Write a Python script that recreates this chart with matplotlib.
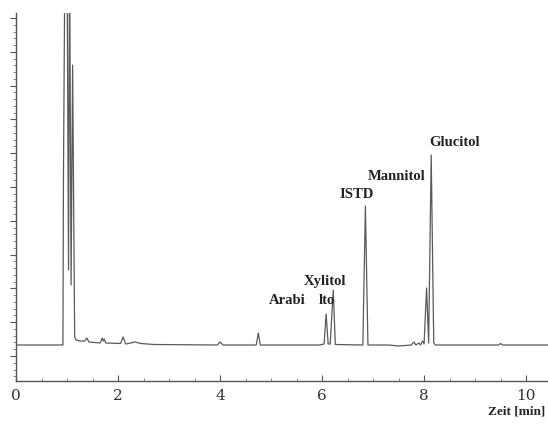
import numpy as np
import matplotlib.pyplot as plt
from matplotlib.ticker import MultipleLocator

# chromatogram trace (time in min, signal in arbitrary units, baseline = 0)
trace_time = [0.0, 0.92, 0.93, 0.96, 1.00, 1.03, 1.05, 1.08, 1.11, 1.15, 1.18, 1.25,
              1.35, 1.39, 1.43, 1.65, 1.69, 1.71, 1.73, 1.76, 2.05, 2.10, 2.15,
              2.25, 2.33, 2.45, 2.70, 3.95, 4.00, 4.06, 4.71, 4.75, 4.79,
              5.95, 6.04, 6.08, 6.12, 6.16, 6.22, 6.26, 6.80, 6.85, 6.90,
              7.30, 7.50, 7.75, 7.80, 7.84, 7.90, 7.93, 7.97, 8.00, 8.05, 8.09,
              8.14, 8.19, 8.22, 9.46, 9.50, 9.54, 10.5]
trace_signal = [0, 0, 165, 400, 400, 75, 400, 60, 280, 8, 5, 4,
                4, 7, 3, 2, 7, 4, 6, 2, 1.5, 8, 1,
                2, 3, 1.5, 0.5, 0, 3, 0, 0, 12, 0,
                0, 1, 31, 1, 1, 55, 0.5, 0, 139, 0,
                0, -1, 0, 3, 0, 2, 0, 4, 1, 57, 2,
                190, 2, 0, 0, 1.5, 0, 0]

# peak labels
label_text = ["Arabi", "lto", "Xylitol", "ISTD", "Mannitol", "Glucitol"]
label_x = [5.31, 6.09, 6.06, 6.67, 7.46, 8.60]
label_y = [45, 45, 63, 150, 168, 202]

x_ticks = [0, 2, 4, 6, 8, 10]

fig = plt.figure(figsize=(5.48, 4.28), dpi=100)
ax = fig.add_axes([16 / 548, 47 / 428, 532 / 548, 368 / 428])

ax.plot(trace_time, trace_signal, color="#5a5a5a", lw=0.9)

for txt, x, y in zip(label_text, label_x, label_y):
    ax.text(x, y, txt, ha="center", va="center", fontsize=10.5,
            fontweight="bold", family="Liberation Serif", color="#222222")

ax.set_xlim(0, 10.43)
ax.set_ylim(-36, 332)

for s in ["top", "right"]:
    ax.spines[s].set_visible(False)
for s in ["left", "bottom"]:
    ax.spines[s].set_color("#555555")
    ax.spines[s].set_linewidth(1.0)

ax.set_xticks(x_ticks)
ax.xaxis.set_minor_locator(MultipleLocator(0.5))
ax.tick_params(axis="x", which="major", direction="in", length=4, color="#555555",
               labelsize=11, labelcolor="#333333", pad=6)
ax.tick_params(axis="x", which="minor", direction="in", length=2, color="#777777")
for lab in ax.get_xticklabels():
    lab.set_family("DejaVu Serif")

ax.yaxis.set_major_locator(MultipleLocator(33.8, offset=-11))
ax.yaxis.set_minor_locator(MultipleLocator(6.76, offset=-11))
ax.tick_params(axis="y", which="major", direction="out", length=4, color="#555555",
               labelleft=False)
ax.tick_params(axis="y", which="minor", direction="out", length=2, color="#777777")

fig.text(545 / 548, 1 - 412 / 428, "Zeit [min]", ha="right", va="center",
         fontsize=9.5, fontweight="bold", family="Liberation Serif", color="#222222")

fig.savefig("out.png", dpi=100)
